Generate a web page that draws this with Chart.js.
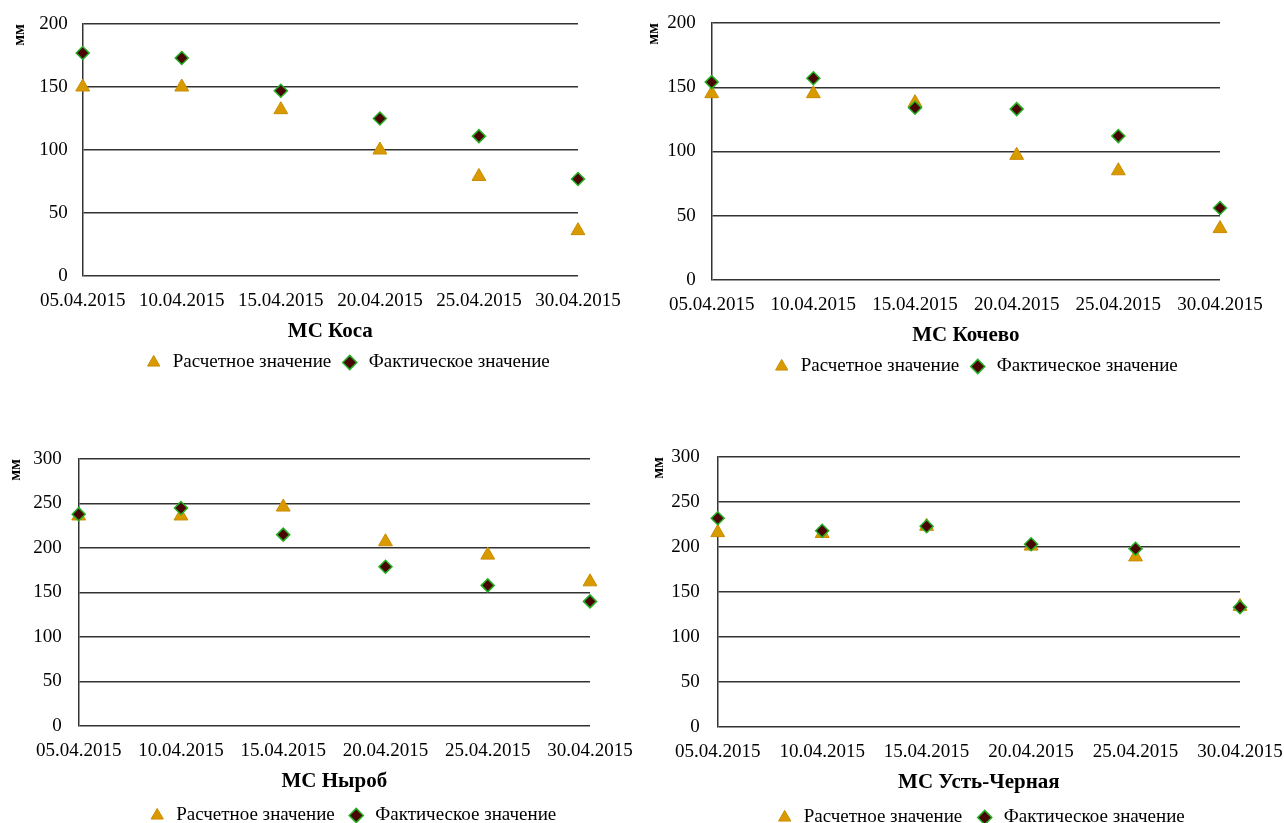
<!DOCTYPE html>
<html>
<head>
<meta charset="utf-8">
<script src="https://cdn.jsdelivr.net/npm/chart.js@4/dist/chart.umd.min.js"></script>
<style>
  body { margin: 0; background: #fff; overflow: hidden; }
  .box { position: absolute; }
</style>
</head>
<body>
<div class="box" style="left:0;top:0;width:684px;height:382px"><canvas id="kosa"></canvas></div>
<div class="box" style="left:640px;top:0;width:666px;height:386px"><canvas id="kochevo"></canvas></div>
<div class="box" style="left:0;top:435px;width:698px;height:400px"><canvas id="nyrob"></canvas></div>
<div class="box" style="left:640px;top:435px;width:671px;height:402px"><canvas id="ustcher"></canvas></div>
<script>
let dates = ['05.04.2015', '10.04.2015', '15.04.2015', '20.04.2015', '25.04.2015', '30.04.2015'];

let kosaCalc = [150, 150, 132, 100, 79, 36];
let kosaFact = [177, 173, 147, 125, 111, 77];

let kochevoCalc = [145, 145, 138, 97, 85, 40];
let kochevoFact = [154, 157, 134, 133, 112, 56];

let nyrobCalc = [236, 236, 246, 207, 192, 162];
let nyrobFact = [238, 245, 215, 179, 158, 140];

let ustCalc = [216, 215, 223, 201, 189, 134];
let ustFact = [232, 218, 223, 203, 198, 133];

let serif = 'Liberation Serif';

function makeChart(id, title, yMax, calc, fact, lay) {
  let ctx = document.getElementById(id).getContext('2d');
  return new Chart(ctx, {
    type: 'line',
    data: {
      labels: dates,
      datasets: [{
        label: 'Расчетное значение',
        data: calc,
        showLine: false,
        pointStyle: 'triangle',
        pointRadius: 8,
        pointBackgroundColor: '#d99a00',
        pointBorderColor: '#c98c00',
        pointBorderWidth: 1,
        backgroundColor: '#d99a00',
        borderColor: '#c98c00',
        order: 1
      }, {
        label: 'Фактическое значение',
        data: fact,
        showLine: false,
        pointStyle: 'rectRot',
        pointRadius: 6.5,
        pointBackgroundColor: '#4a0505',
        pointBorderColor: '#22b022',
        pointBorderWidth: 1.5,
        backgroundColor: '#4a0505',
        borderColor: '#22b022',
        order: 0
      }]
    },
    options: {
      responsive: true,
      maintainAspectRatio: false,
      animation: false,
      layout: { padding: { left: lay.left, top: lay.top, right: 0, bottom: 0 } },
      plugins: {
        tooltip: { enabled: false },
        legend: {
          position: 'bottom',
          labels: {
            usePointStyle: true,
            boxHeight: 10,
            padding: lay.legendPad,
            color: '#000',
            font: { family: serif, size: 19 },
            sort: (a, b) => a.datasetIndex - b.datasetIndex
          }
        }
      },
      scales: {
        x: {
          offset: false,
          grid: { display: false, drawTicks: false },
          border: { display: false },
          // keep the plot edge where the original has it
          afterFit: (s) => { s.paddingLeft = 0; s.paddingRight = lay.right; },
          ticks: {
            color: '#000',
            padding: 14,
            maxRotation: 0,
            autoSkip: false,
            font: { family: serif, size: 19 }
          },
          title: {
            display: true,
            text: title,
            color: '#000',
            padding: { top: -8, bottom: 0 },
            font: { family: serif, size: 21, weight: 'bold' }
          }
        },
        y: {
          min: 0,
          max: yMax,
          grid: { color: '#333', lineWidth: 1.5, drawTicks: false },
          border: { display: true, color: '#333', width: 1.5 },
          afterFit: (s) => { s.paddingTop = 0; s.paddingBottom = 0; },
          ticks: {
            stepSize: 50,
            color: '#000',
            padding: lay.tickPad,
            font: { family: serif, size: 19 }
          },
          title: {
            display: true,
            text: 'мм',
            align: 'end',
            color: '#000',
            padding: { top: 0, bottom: lay.titleGap },
            font: { family: serif, size: 16, weight: 'bold' }
          }
        }
      }
    }
  });
}

makeChart('kosa', 'МС Коса', 200, kosaCalc, kosaFact,
  { left: 10, top: 24, right: 106, legendPad: 9, tickPad: 15, titleGap: -5 });
makeChart('kochevo', 'МС Кочево', 200, kochevoCalc, kochevoFact,
  { left: 4, top: 23, right: 86, legendPad: 9, tickPad: 16, titleGap: -12 });
makeChart('nyrob', 'МС Ныроб', 300, nyrobCalc, nyrobFact,
  { left: 6, top: 24, right: 108, legendPad: 12, tickPad: 17, titleGap: -9 });
makeChart('ustcher', 'МС Усть-Черная', 300, ustCalc, ustFact,
  { left: 9, top: 22, right: 71, legendPad: 13, tickPad: 18, titleGap: -15 });
</script>
</body>
</html>
